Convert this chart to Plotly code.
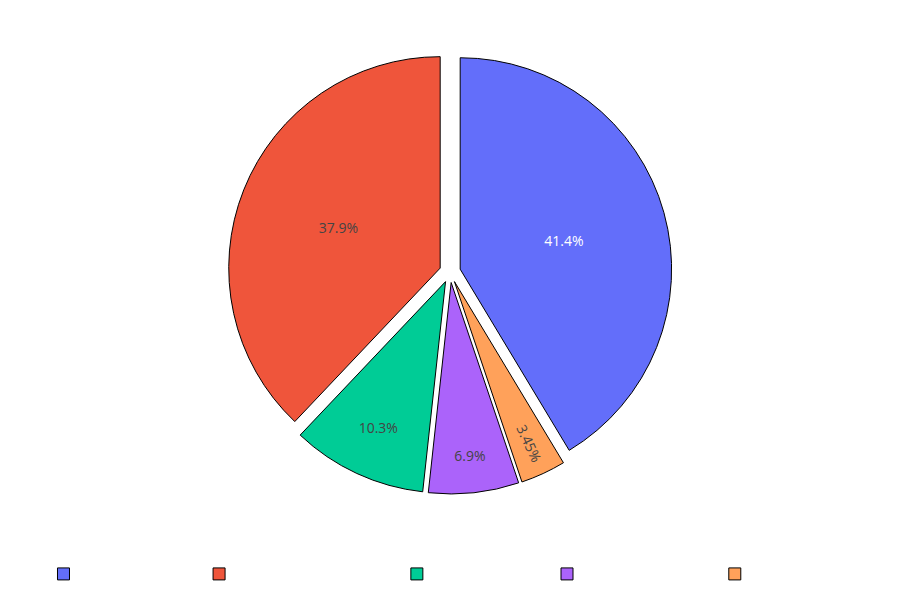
import plotly.graph_objects as go

labels = ["First category name", "Second category label texts", "Third category one", "Fourth category items", "Fifth category set"]
values = [12, 11, 3, 2, 1]
pulls = [0.05, 0.05, 0.05, 0.05, 0.05]

fig = go.Figure(go.Pie(
    labels=labels,
    values=values,
    pull=pulls,
    sort=False,
    marker=dict(line=dict(color="black", width=1)),
    textinfo="percent",
    textfont=dict(size=14),
))
fig.update_layout(
    width=900, height=600,
    margin=dict(l=24, r=40, t=42, b=114, autoexpand=False),
    paper_bgcolor="white",
    legend=dict(orientation="h", xref="container", x=0.4911, xanchor="center",
                y=-0.180, yanchor="middle",
                font=dict(color="rgba(255,255,255,0)")),
)
fig.write_html("out.html")
